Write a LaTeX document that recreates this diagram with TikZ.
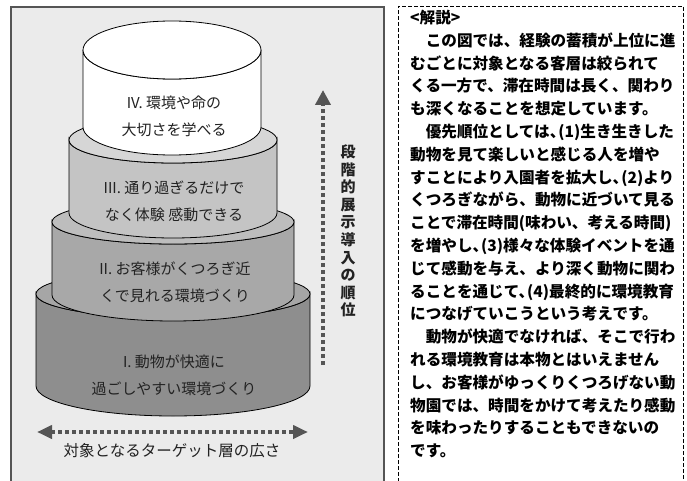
\documentclass[tikz,border=0pt]{standalone}
\usepackage{fontspec}
\setmainfont{Noto Sans CJK JP}
\usetikzlibrary{arrows.meta}
\definecolor{panelbg}{HTML}{EBEBEB}
\definecolor{panelline}{HTML}{555555}
\definecolor{inktext}{HTML}{222222}
\definecolor{arrowgray}{HTML}{555555}
\definecolor{sideA}{HTML}{8E8E8E}
\definecolor{topA}{HTML}{A6A6A6}
\definecolor{sideB}{HTML}{A8A8A8}
\definecolor{topB}{HTML}{BDBDBD}
\definecolor{sideC}{HTML}{C4C4C4}
\definecolor{topC}{HTML}{D6D6D6}
\newcommand\cakelayer[8]{%
  \filldraw[fill=#7, draw=black, line width=0.8pt]
    (#1-#2,#3) -- (#1-#2,#5)
    arc[start angle=180, end angle=360, x radius=#2pt, y radius=#6pt]
    -- (#1+#2,#3)
    arc[start angle=0, end angle=-180, x radius=#2pt, y radius=#4pt] -- cycle;
  \filldraw[fill=#8, draw=black, line width=0.8pt]
    (#1,#3) ellipse[x radius=#2pt, y radius=#4pt];
}
\newcommand\tcomma{、\kern-.45em}
\tikzset{
  tiertext/.style={font=\fontsize{15}{27}\selectfont, text=inktext, align=center, inner sep=0pt},
  dotline/.style={arrowgray, line width=4pt, dash pattern=on 4pt off 3pt},
  bodytext/.style={font=\fontsize{15.6}{22.8}\selectfont\bfseries, text=black, align=left, inner sep=0pt, anchor=north west},
}
\begin{document}
\begin{tikzpicture}[x=1pt,y=-1pt]
\useasboundingbox (0,0) rectangle (687,481);
\fill[white] (0,0) rectangle (687,481);
% left panel
\fill[panelbg] (11,7) rectangle (384,482);
\draw[panelline, line width=1.5pt] (11,482) -- (11,7) -- (384,7) -- (384,482);
% right dashed box
\draw[black, line width=0.9pt, dash pattern=on 4pt off 2pt] (398,482) -- (398,6) -- (683,6) -- (683,482);

% cake tiers
\cakelayer{173}{137}{294}{24}{386}{30}{sideA}{topA}
\cakelayer{173}{121}{222}{22}{295}{26}{sideB}{topB}
\cakelayer{173}{104}{140}{23}{213}{25}{sideC}{topC}
\cakelayer{172}{89}{50}{29}{127}{28}{white}{white}

\node[tiertext] (t4) at (174,116.5) {IV. 環境や命の\\大切さを学べる};
\node[tiertext] (t3) at (174,201) {III. 通り過ぎるだけで\\なく体験 感動できる};
\node[tiertext] (t2) at (175,282) {II. お客様がくつろぎ近\\くで見れる環境づくり};
\node[tiertext] (t1) at (174,375) {I. 動物が快適に\\過ごしやすい環境づくり};

% vertical arrow
\coordinate (vb) at (323,365);
\coordinate (vt) at (323,90);
\draw[dotline, -{Triangle[length=15pt,width=15pt]}] (vb) -- (vt);
\node[font=\fontsize{15}{17.6}\selectfont\bfseries, text=inktext, align=center, inner sep=0pt] (vlabel) at (348,231)
  {段\\階\\的\\展\\示\\導\\入\\の\\順\\位};

% horizontal arrow
\coordinate (hl) at (37,432);
\coordinate (hr) at (308,432);
\draw[dotline, {Triangle[length=15pt,width=13pt]}-{Triangle[length=15pt,width=13pt]}] (hl) -- (hr);
\node[font=\fontsize{15.5}{18}\selectfont, text=inktext, inner sep=0pt] (hlabel) at (172,451) {対象となるターゲット層の広さ};

% explanation text
\node[bodytext] (expl) at (410,10) {%
<解説>\\
　この図では、経験の蓄積が上位に進\\
むごとに対象となる客層は絞られて\\
くる一方で、滞在時間は長く、関わり\\
も深くなることを想定しています。\\
　優先順位としては\tcomma(1)生き生きした\\
動物を見て楽しいと感じる人を増や\\
すことにより入園者を拡大し\tcomma(2)より\\
くつろぎながら、動物に近づいて見る\\
ことで滞在時間(味わい、考える時間)\\
を増やし\tcomma(3)様々な体験イベントを通\\
じて感動を与え、より深く動物に関わ\\
ることを通じて\tcomma(4)最終的に環境教育\\
につなげていこうという考えです。\\
　動物が快適でなければ、そこで行わ\\
れる環境教育は本物とはいえません\\
し、お客様がゆっくりくつろげない動\\
物園では、時間をかけて考えたり感動\\
を味わったりすることもできないの\\
です。};
\end{tikzpicture}
\end{document}
